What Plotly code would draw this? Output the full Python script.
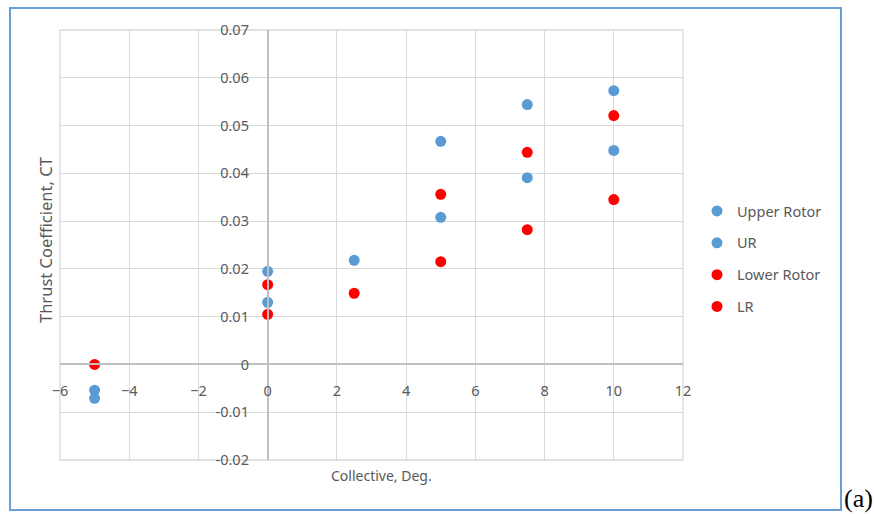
import plotly.graph_objects as go

# Data
upper_x = [-5, 0, 2.5, 5, 7.5, 10]
upper_y = [-0.0054, 0.0195, 0.0218, 0.0467, 0.0544, 0.0573]
ur_x = [-5, 0, 5, 7.5, 10]
ur_y = [-0.0071, 0.0130, 0.0308, 0.0391, 0.0448]
lower_x = [-5, 0, 2.5, 5, 7.5, 10]
lower_y = [0.0, 0.0167, 0.0149, 0.0356, 0.0444, 0.0521]
lr_x = [0, 5, 7.5, 10]
lr_y = [0.0105, 0.0215, 0.0282, 0.0345]

x_ticks = [-6, -4, -2, 0, 2, 4, 6, 8, 10, 12]
y_ticks = [-0.02, -0.01, 0, 0.01, 0.02, 0.03, 0.04, 0.05, 0.06, 0.07]
y_labels = ["-0.02", "-0.01", "0", "0.01", "0.02", "0.03", "0.04", "0.05", "0.06", "0.07"]

BLUE = "#5b9bd5"
RED = "#ff0000"
FONT = "Noto Sans"
GRAY = "#595959"

W, H = 874, 514
L, R, T, B = 60, 683, 30, 460

fig = go.Figure()
series = [
    ("Upper Rotor", upper_x, upper_y, BLUE),
    ("UR", ur_x, ur_y, BLUE),
    ("Lower Rotor", lower_x, lower_y, RED),
    ("LR", lr_x, lr_y, RED),
]
for i, (name, xs, ys, c) in enumerate(series):
    fig.add_trace(go.Scatter(x=xs, y=ys, mode="markers", name=name,
                             legendgroup=f"g{i}",
                             marker=dict(color=c, size=11, line=dict(width=0))))

def px_x(p):
    return (p - L) / (R - L)

def px_y(p):
    return (B - p) / (B - T)

fig.update_layout(
    width=W, height=H,
    margin=dict(l=L, r=W - R, t=T, b=H - B, pad=0),
    paper_bgcolor="white", plot_bgcolor="white",
    font=dict(family=FONT, size=12, color=GRAY),
    xaxis=dict(range=[-6, 12], tickvals=x_ticks, anchor="free", position=2 / 9,
               showgrid=True, gridcolor="#d9d9d9", gridwidth=1.3,
               showline=True, linecolor="#bfbfbf", linewidth=1.6,
               zeroline=False, ticks="outside", ticklen=13,
               tickcolor="rgba(0,0,0,0)", tickfont=dict(size=14.5, color=GRAY)),
    yaxis=dict(range=[-0.02, 0.07], tickvals=y_ticks, ticktext=y_labels,
               anchor="free", position=1 / 3,
               showgrid=True, gridcolor="#d9d9d9", gridwidth=1.3,
               showline=True, linecolor="#bfbfbf", linewidth=1.6,
               zeroline=False, ticks="outside", ticklen=15,
               tickcolor="rgba(0,0,0,0)", tickfont=dict(size=14.5, color=GRAY)),
    legend=dict(x=px_x(697), y=px_y(259), xanchor="left", yanchor="middle",
                tracegroupgap=10, font=dict(size=14.5, color=GRAY),
                bgcolor="rgba(0,0,0,0)", itemwidth=30),
    showlegend=True,
)

# plot area frame (Excel outer gridlines)
fig.add_shape(type="rect", xref="paper", yref="paper", x0=0, x1=1, y0=0, y1=1,
              line=dict(color="#d9d9d9", width=1.3), layer="below")

# chart border
fig.add_shape(type="rect", xref="paper", yref="paper",
              x0=px_x(10), x1=px_x(841), y0=px_y(510), y1=px_y(8),
              line=dict(color="#6a9fd6", width=2))

fig.add_annotation(text="Collective, Deg.", xref="paper", yref="paper",
                   x=px_x(381), y=px_y(475), xanchor="center", yanchor="middle",
                   showarrow=False, font=dict(size=14, color=GRAY))
fig.add_annotation(text="Thrust Coefficient, CT", xref="paper", yref="paper",
                   x=px_x(45), y=px_y(240), xanchor="center", yanchor="middle",
                   showarrow=False, textangle=-90,
                   font=dict(size=16.5, color=GRAY))
fig.add_annotation(text="(a)", xref="paper", yref="paper",
                   x=px_x(842), y=px_y(515), xanchor="left", yanchor="bottom",
                   showarrow=False,
                   font=dict(family="Liberation Serif", size=26, color="black"))

fig.write_html("out.html")
